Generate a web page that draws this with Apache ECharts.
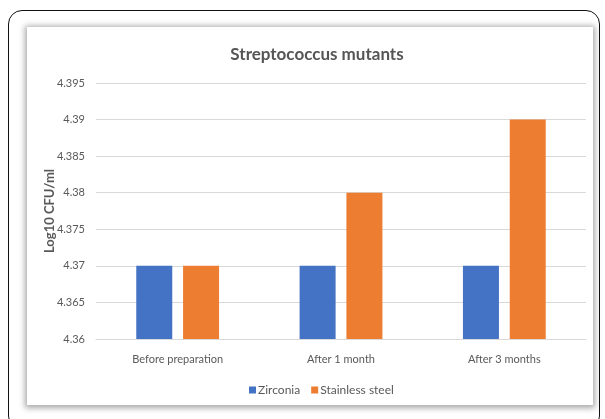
<!DOCTYPE html>
<html><head><meta charset="utf-8">
<script src="https://cdn.jsdelivr.net/npm/echarts@6/dist/echarts.min.js"></script>
<style>
html,body{margin:0;padding:0;background:#fff;}
#frame{position:absolute;left:8px;top:10px;width:592px;height:420px;border:1.6px solid #111;border-radius:14px;box-sizing:border-box;}
#panel{position:absolute;left:27px;top:27px;width:566px;height:378px;background:#fff;box-shadow:0 1px 6px 2px rgba(0,0,0,0.35);}
#chart{position:absolute;left:0;top:0;width:605px;height:419px;}
</style></head>
<body>
<div id="frame"></div>
<div id="panel"></div>
<div id="chart"></div>
<script>
const categories = ['Before preparation', 'After 1 month', 'After 3 months'];
const zirconia = [4.37, 4.37, 4.37];
const stainless = [4.37, 4.38, 4.39];
const seriesNames = ['Zirconia', 'Stainless steel'];
const yMin = 4.36, yMax = 4.395, yStep = 0.005;

const chart = echarts.init(document.getElementById('chart'), null, {renderer: 'canvas'});
const txt = '#595959';
const font = 'Lato';
chart.setOption({
  backgroundColor: 'transparent',
  animation: false,
  title: {
    text: 'Streptococcus mutants', left: 312, top: 41, textAlign: 'center',
    textStyle: {fontFamily: font, fontSize: 17, fontWeight: 'bold', color: '#555555'}
  },
  legend: {
    data: seriesNames, bottom: 18, left: 244, itemWidth: 7, itemHeight: 7, itemGap: 11,
    icon: 'rect',
    textStyle: {fontFamily: font, fontSize: 12, color: txt, padding: [0, 0, 0, -3]}
  },
  grid: {left: 96, right: 19, top: 83, bottom: 80},
  xAxis: {
    type: 'category', data: categories,
    axisLine: {lineStyle: {color: '#d9d9d9'}}, axisTick: {show: false},
    axisLabel: {fontFamily: font, fontSize: 11, color: txt, margin: 15}
  },
  yAxis: {
    type: 'value', min: yMin, max: yMax, interval: yStep,
    name: 'Log10 CFU/ml', nameLocation: 'middle', nameGap: 40, nameRotate: 90,
    nameMoveOverlap: false,
    nameTextStyle: {fontFamily: font, fontSize: 13, fontWeight: 'bold', color: txt},
    axisLine: {show: false}, axisTick: {show: false},
    splitLine: {lineStyle: {color: '#d9d9d9'}},
    axisLabel: {fontFamily: font, fontSize: 11, color: txt, margin: 11,
      formatter: v => String(parseFloat(v.toFixed(3)))}
  },
  series: [
    {name: seriesNames[0], type: 'bar', data: zirconia, barWidth: 36, barGap: '30%', itemStyle: {color: '#4472c4'}},
    {name: seriesNames[1], type: 'bar', data: stainless, barWidth: 36, itemStyle: {color: '#ed7d31'}}
  ]
});
</script>
</body></html>
